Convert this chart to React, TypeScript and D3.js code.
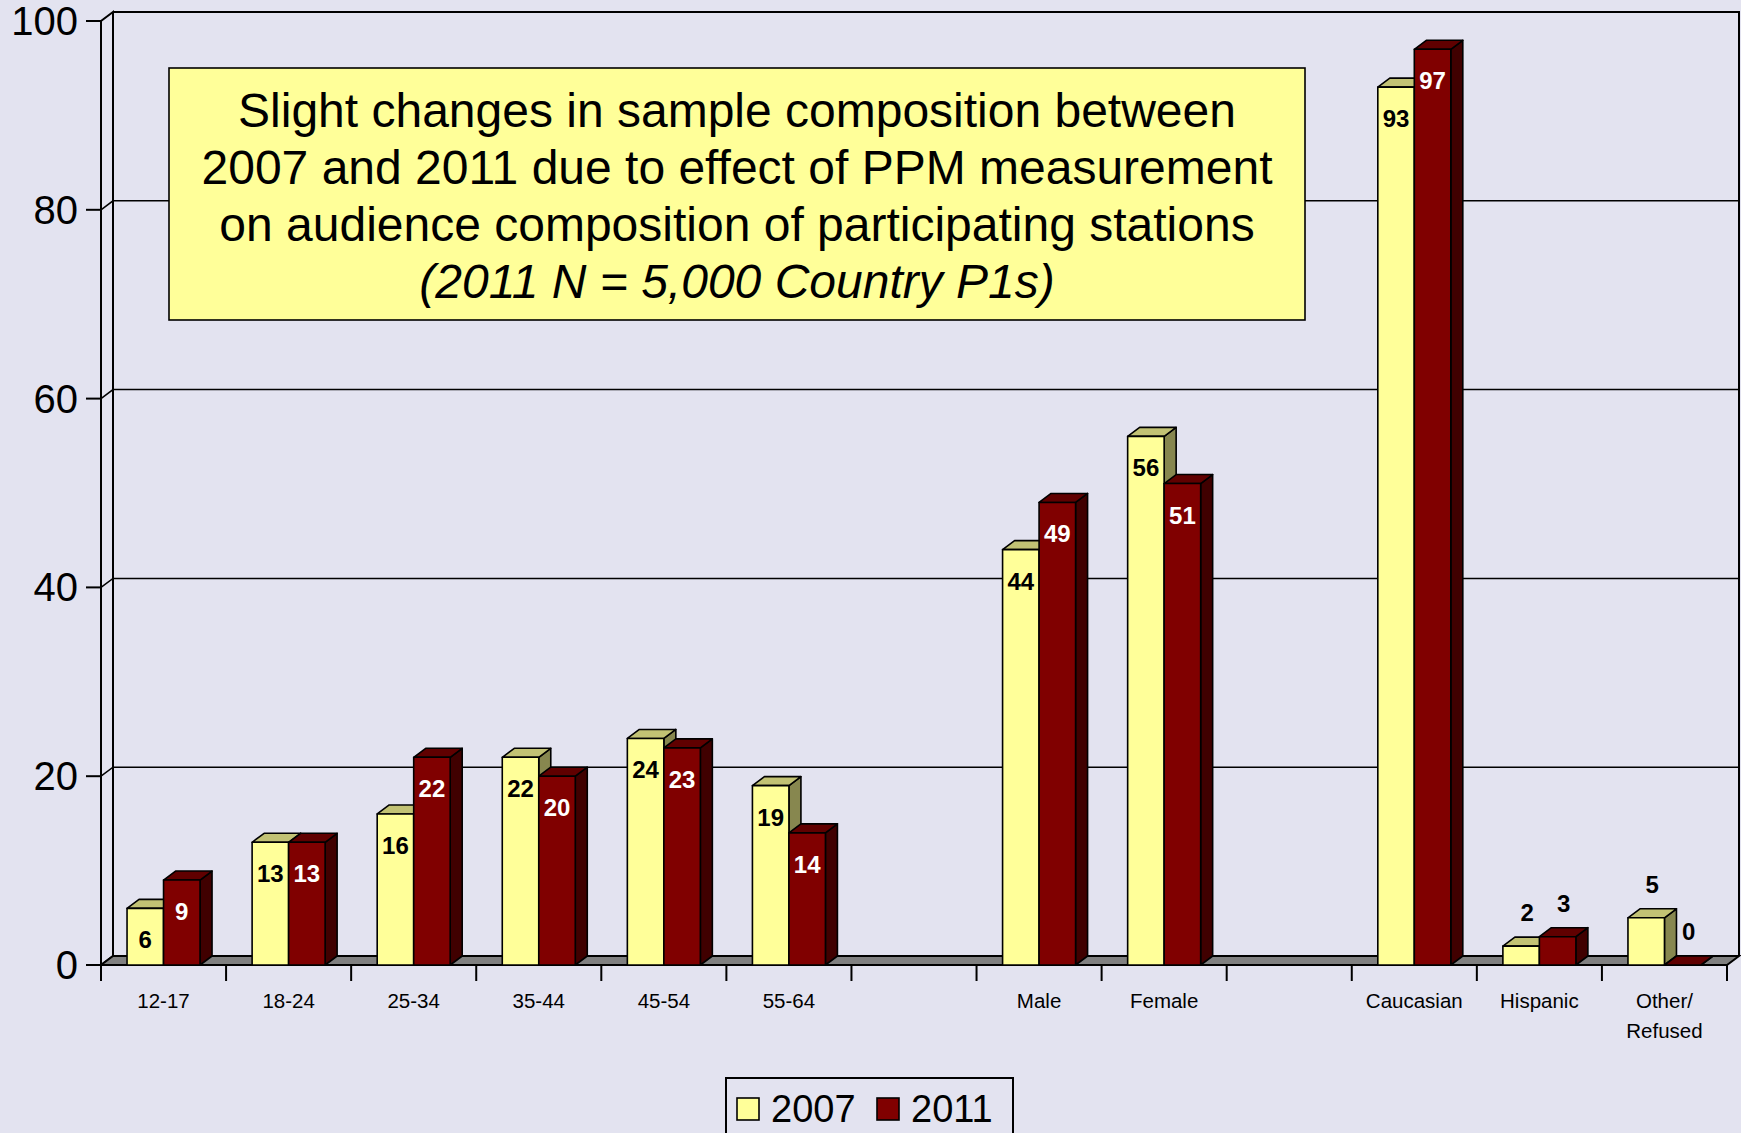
import React from "react";
import * as d3 from "d3";

const categories = ["12-17", "18-24", "25-34", "35-44", "45-54", "55-64", "gap1", "Male", "Female", "gap2", "Caucasian", "Hispanic", "Other/Refused"];
const categoryLabels = [["12-17"], ["18-24"], ["25-34"], ["35-44"], ["45-54"], ["55-64"], [], ["Male"], ["Female"], [], ["Caucasian"], ["Hispanic"], ["Other/", "Refused"]];
const seriesNames = ["2007", "2011"];
const values2007 = [6, 13, 16, 22, 24, 19, null, 44, 56, null, 93, 2, 5];
const values2011 = [9, 13, 22, 20, 23, 14, null, 49, 51, null, 97, 3, 0];
const yTicks = [0, 20, 40, 60, 80, 100];
const titleLines = [
  "Slight changes in sample composition between",
  "2007 and 2011 due to effect of PPM measurement",
  "on audience composition of participating stations",
];
const titleItalic = "(2011 N = 5,000 Country P1s)";

const W = 1741;
const H = 1133;
const BG = "#E3E3F0";
const FONT = "'Liberation Sans', Arial, Helvetica, sans-serif";
const DX = 12;
const DY = 9;

const colors = {
  "2007": { front: "#FFFF99", top: "#C2C274", side: "#87874F", text: "#000" },
  "2011": { front: "#800000", top: "#600000", side: "#400000", text: "#fff" },
};

export default function App() {
  const x0 = 101;
  const x1 = 1727;
  const y = d3.scaleLinear().domain([0, 100]).range([965, 21]);
  const x = d3.scaleBand<string>().domain(categories).range([x0, x1]).padding(0);
  const bw = x.bandwidth();
  const xs = d3.scaleBand<string>().domain(seriesNames).range([bw / 2 - 36.5, bw / 2 + 36.5]).padding(0);
  const barW = xs.bandwidth();
  const yBase = y(0);
  const yTop = y(100);
  const series = [
    { name: "2007", values: values2007 },
    { name: "2011", values: values2011 },
  ];

  const bars: React.ReactNode[] = [];
  const labels: React.ReactNode[] = [];
  categories.forEach((c, i) => {
    series.forEach((s) => {
      const v = s.values[i];
      if (v === null || v === undefined) return;
      const col = colors[s.name as "2007" | "2011"];
      const bx = (x(c) as number) + (xs(s.name) as number);
      const by = y(v);
      const top = `M${bx},${by}L${bx + DX},${by - DY}L${bx + barW + DX},${by - DY}L${bx + barW},${by}Z`;
      const side = `M${bx + barW},${by}L${bx + barW + DX},${by - DY}L${bx + barW + DX},${yBase - DY}L${bx + barW},${yBase}Z`;
      bars.push(
        <g key={`${c}-${s.name}`} stroke="#000" strokeWidth={1.6} strokeLinejoin="round">
          <path d={side} fill={col.side} />
          <path d={top} fill={col.top} />
          <rect x={bx} y={by} width={barW} height={yBase - by} fill={col.front} />
        </g>
      );
      const inside = v >= 6;
      labels.push(
        <text
          key={`l-${c}-${s.name}`}
          x={inside ? bx + barW / 2 : bx + barW / 2 + DX / 2}
          y={inside ? by + 40 : by - 25}
          textAnchor="middle"
          fontFamily={FONT}
          fontWeight="bold"
          fontSize={24}
          fill={inside ? col.text : "#000"}
        >
          {v}
        </text>
      );
    });
  });

  const slotEdges = categories.map((c) => x(c) as number).concat([x1]);

  return (
    <svg width={W} height={H} style={{ position: "absolute", left: 0, top: 0, background: BG }}>
      <rect x={0} y={0} width={W} height={H} fill={BG} />
      {/* left side wall */}
      <path d={`M${x0},${yBase}L${x0},${yTop}L${x0 + DX},${yTop - DY}L${x0 + DX},${yBase - DY}Z`} fill={BG} stroke="#000" strokeWidth={2} />
      {/* back wall border */}
      <path d={`M${x0 + DX},${yTop - DY}L${x1 + DX},${yTop - DY}L${x1 + DX},${yBase - DY}`} fill="none" stroke="#000" strokeWidth={2} />
      {/* gridlines */}
      {yTicks.filter((t) => t > 0 && t < 100).map((t) => (
        <path key={`g${t}`} d={`M${x0},${y(t)}L${x0 + DX},${y(t) - DY}L${x1 + DX},${y(t) - DY}`} fill="none" stroke="#000" strokeWidth={1.5} />
      ))}
      {/* floor */}
      <path d={`M${x0},${yBase}L${x0 + DX},${yBase - DY}L${x1 + DX},${yBase - DY}L${x1},${yBase}Z`} fill="#808080" stroke="#000" strokeWidth={2} />
      {/* y axis ticks and labels */}
      {yTicks.map((t) => (
        <g key={`yt${t}`}>
          <line x1={x0 - 15} x2={x0} y1={y(t)} y2={y(t)} stroke="#000" strokeWidth={2} />
          <text x={78} y={y(t) + 14} textAnchor="end" fontFamily={FONT} fontSize={40} fill="#000">
            {t}
          </text>
        </g>
      ))}
      {/* x ticks */}
      {slotEdges.map((e, i) => (
        <line key={`xt${i}`} x1={e} x2={e} y1={yBase} y2={yBase + 16} stroke="#000" strokeWidth={2} />
      ))}
      {categories.map((c, i) => (
        <text key={`xl${c}`} textAnchor="middle" fontFamily={FONT} fontSize={20.5} fill="#000">
          {categoryLabels[i].map((ln, j) => (
            <tspan key={j} x={(x(c) as number) + bw / 2} y={1008 + j * 30}>
              {ln}
            </tspan>
          ))}
        </text>
      ))}
      {bars}
      {labels}
      {/* title box */}
      <rect x={169} y={68} width={1136} height={252} fill="#FFFF99" stroke="#000" strokeWidth={1.6} />
      {titleLines.map((ln, i) => (
        <text key={`t${i}`} x={737} y={127 + i * 57} textAnchor="middle" fontFamily={FONT} fontSize={48} fill="#000">
          {ln}
        </text>
      ))}
      <text x={737} y={298} textAnchor="middle" fontFamily={FONT} fontSize={48} fontStyle="italic" fill="#000">
        {titleItalic}
      </text>
      {/* legend */}
      <rect x={726} y={1078} width={287} height={80} fill={BG} stroke="#000" strokeWidth={2} />
      <rect x={737} y={1098} width={22} height={22} fill={colors["2007"].front} stroke="#000" strokeWidth={1.6} />
      <text x={771} y={1122} fontFamily={FONT} fontSize={38} fill="#000">{seriesNames[0]}</text>
      <rect x={877} y={1098} width={22} height={22} fill={colors["2011"].front} stroke="#000" strokeWidth={1.6} />
      <text x={911} y={1122} fontFamily={FONT} fontSize={38} fill="#000">{seriesNames[1]}</text>
    </svg>
  );
}
